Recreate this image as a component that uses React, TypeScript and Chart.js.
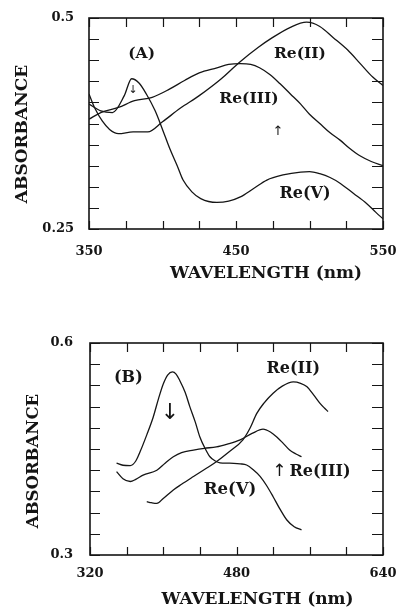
import React, { useEffect, useRef } from "react";
import { Chart, registerables } from "chart.js";

Chart.register(...registerables);

// ---------- Panel A data ----------
const A_X_LABELS = [350, 450, 550];
const A_Y_LABELS = [0.25, 0.5];
const A_X_MINOR = [350, 375, 400, 425, 450, 475, 500, 525, 550];
const A_Y_MINOR = [0.25, 0.275, 0.3, 0.325, 0.35, 0.375, 0.4, 0.425, 0.45, 0.475, 0.5];

const A_RE2_NM = [350, 354, 359, 364, 370, 380, 390, 400, 412, 425, 440, 452, 465, 475, 487, 498, 507, 516, 526, 535, 543, 550];
const A_RE2_ABS = [0.410, 0.393, 0.378, 0.368, 0.363, 0.365, 0.365, 0.377, 0.393, 0.408, 0.428, 0.447, 0.465, 0.477, 0.489, 0.495, 0.490, 0.477, 0.462, 0.445, 0.430, 0.420];

const A_RE3_NM = [350, 358, 370, 381, 393, 405, 415, 425, 437, 445, 453, 460, 466, 473, 480, 487, 494, 500, 507, 514, 521, 527, 534, 542, 550];
const A_RE3_ABS = [0.380, 0.388, 0.394, 0.402, 0.406, 0.416, 0.426, 0.435, 0.441, 0.445, 0.446, 0.445, 0.441, 0.433, 0.422, 0.410, 0.398, 0.386, 0.375, 0.364, 0.355, 0.346, 0.337, 0.330, 0.325];

const A_RE5_NM = [350, 358, 366, 374, 379, 384, 389, 395, 400, 405, 410, 414, 420, 426, 437, 445, 453, 462, 471, 482, 494, 500, 507, 514, 521, 530, 539, 545, 550];
const A_RE5_ABS = [0.398, 0.390, 0.388, 0.408, 0.428, 0.423, 0.410, 0.390, 0.368, 0.345, 0.325, 0.308, 0.294, 0.286, 0.2815, 0.283, 0.288, 0.298, 0.308, 0.314, 0.3175, 0.318, 0.3155, 0.311, 0.304, 0.292, 0.280, 0.270, 0.262];

// ---------- Panel B data ----------
const B_X_LABELS = [320, 480, 640];
const B_Y_LABELS = [0.3, 0.6];
const B_X_MINOR = [320, 360, 400, 440, 480, 520, 560, 600, 640];
const B_Y_MINOR = [0.3, 0.33, 0.36, 0.39, 0.42, 0.45, 0.48, 0.51, 0.54, 0.57, 0.6];

const B_RE2_NM = [382, 387, 393, 400, 411, 420, 433, 445, 458, 472, 487, 495, 502, 510, 520, 530, 542, 550, 557, 564, 571, 576, 580];
const B_RE2_ABS = [0.3755, 0.374, 0.373, 0.380, 0.392, 0.400, 0.411, 0.421, 0.432, 0.446, 0.463, 0.480, 0.500, 0.515, 0.529, 0.539, 0.545, 0.543, 0.538, 0.527, 0.515, 0.508, 0.503];

const B_RE3_NM = [349, 356, 364, 370, 378, 393, 402, 411, 420, 433, 445, 458, 470, 484, 497, 509, 517, 524, 531, 538, 545, 551];
const B_RE3_ABS = [0.418, 0.408, 0.404, 0.407, 0.413, 0.420, 0.430, 0.439, 0.445, 0.4485, 0.451, 0.453, 0.457, 0.463, 0.472, 0.478, 0.474, 0.467, 0.458, 0.4485, 0.443, 0.439];

const B_RE5_NM = [349, 356, 364, 370, 375, 382, 389, 395, 400, 405, 410, 414, 418, 424, 429, 435, 440, 446, 451, 457, 462, 470, 477, 484, 491, 498, 506, 513, 520, 527, 535, 543, 551];
const B_RE5_ABS = [0.430, 0.427, 0.4265, 0.433, 0.447, 0.470, 0.495, 0.522, 0.542, 0.555, 0.559, 0.556, 0.547, 0.530, 0.510, 0.488, 0.467, 0.450, 0.439, 0.433, 0.4305, 0.430, 0.4298, 0.429, 0.4274, 0.421, 0.411, 0.398, 0.3825, 0.366, 0.3495, 0.340, 0.3355];

const SERIF = '"DejaVu Serif", "Liberation Serif", serif';
const SANS = '"DejaVu Sans", sans-serif';
const INK = "#151515";

type Note = { text: string; x: number; y: number; size: number; family?: string };

type Panel = {
  width: number;
  height: number;
  top: number;
  xMin: number;
  xMax: number;
  yMin: number;
  yMax: number;
  xLabels: number[];
  yLabels: number[];
  xMinor: number[];
  yMinor: number[];
  series: { nm: number[]; abs: number[] }[];
  padTop: number;
  padRight: number;
  yAxisWidth: number;
  xAxisHeight: number;
  xTickPad: number;
  yTickPad: number;
  xTitlePos: [number, number];
  xTitleSize: number;
  yTitlePos: [number, number];
  yTitleSize: number;
  notes: Note[];
};

const PANEL_A: Panel = {
  width: 397,
  height: 300,
  top: 0,
  xMin: 350,
  xMax: 550,
  yMin: 0.25,
  yMax: 0.5,
  xLabels: A_X_LABELS,
  yLabels: A_Y_LABELS,
  xMinor: A_X_MINOR,
  yMinor: A_Y_MINOR,
  series: [
    { nm: A_RE2_NM, abs: A_RE2_ABS },
    { nm: A_RE3_NM, abs: A_RE3_ABS },
    { nm: A_RE5_NM, abs: A_RE5_ABS },
  ],
  padTop: 18,
  padRight: 14,
  yAxisWidth: 89,
  xAxisHeight: 71,
  xTickPad: 15,
  yTickPad: 15,
  xTitlePos: [266, 273.5],
  xTitleSize: 17,
  yTitlePos: [23, 134],
  yTitleSize: 17,
  notes: [
    { text: "(A)", x: 385.8, y: 0.457, size: 15.5 },
    { text: "Re(II)", x: 493.5, y: 0.457, size: 15.5 },
    { text: "Re(III)", x: 458.8, y: 0.404, size: 15.5 },
    { text: "Re(V)", x: 497, y: 0.292, size: 16 },
    { text: "↓", x: 380, y: 0.4145, size: 11, family: SANS },
    { text: "↑", x: 478.6, y: 0.3655, size: 13, family: SANS },
  ],
};

const PANEL_B: Panel = {
  width: 397,
  height: 310,
  top: 300,
  xMin: 320,
  xMax: 640,
  yMin: 0.3,
  yMax: 0.6,
  xLabels: B_X_LABELS,
  yLabels: B_Y_LABELS,
  xMinor: B_X_MINOR,
  yMinor: B_Y_MINOR,
  series: [
    { nm: B_RE2_NM, abs: B_RE2_ABS },
    { nm: B_RE3_NM, abs: B_RE3_ABS },
    { nm: B_RE5_NM, abs: B_RE5_ABS },
  ],
  padTop: 43,
  padRight: 14,
  yAxisWidth: 90,
  xAxisHeight: 55,
  xTickPad: 11,
  yTickPad: 17,
  xTitlePos: [257.5, 300],
  xTitleSize: 17,
  yTitlePos: [34, 161],
  yTitleSize: 16.5,
  notes: [
    { text: "(B)", x: 361.9, y: 0.55, size: 16 },
    { text: "Re(II)", x: 542, y: 0.564, size: 16 },
    { text: "↓", x: 407.4, y: 0.501, size: 22, family: SANS },
    { text: "↑", x: 526.8, y: 0.418, size: 17, family: SANS },
    { text: "Re(III)", x: 571.2, y: 0.418, size: 16 },
    { text: "Re(V)", x: 472.9, y: 0.392, size: 16.5 },
  ],
};

function decorPlugin(p: Panel) {
  return {
    id: "panelDecor",
    afterDraw(chart: any) {
      const { ctx, chartArea: a, scales } = chart;
      const xs = scales.x;
      const ys = scales.y;
      ctx.save();
      ctx.strokeStyle = INK;
      ctx.lineWidth = 1.6;
      ctx.strokeRect(a.left, a.top, a.right - a.left, a.bottom - a.top);
      ctx.lineWidth = 1.2;
      ctx.beginPath();
      for (const v of p.xMinor) {
        const px = Math.round(xs.getPixelForValue(v)) + 0.5;
        ctx.moveTo(px, a.top);
        ctx.lineTo(px, a.top + 9);
        ctx.moveTo(px, a.bottom);
        ctx.lineTo(px, a.bottom - 8);
      }
      for (const v of p.yMinor) {
        const py = Math.round(ys.getPixelForValue(v)) + 0.5;
        ctx.moveTo(a.left, py);
        ctx.lineTo(a.left + 10, py);
        ctx.moveTo(a.right, py);
        ctx.lineTo(a.right - 11, py);
      }
      ctx.stroke();

      ctx.fillStyle = INK;
      ctx.textAlign = "center";
      ctx.textBaseline = "middle";
      ctx.font = `bold ${p.xTitleSize}px ${SERIF}`;
      ctx.fillText("WAVELENGTH (nm)", p.xTitlePos[0], p.xTitlePos[1]);

      ctx.save();
      ctx.translate(p.yTitlePos[0], p.yTitlePos[1]);
      ctx.rotate(-Math.PI / 2);
      ctx.font = `bold ${p.yTitleSize}px ${SERIF}`;
      ctx.fillText("ABSORBANCE", 0, 0);
      ctx.restore();

      for (const n of p.notes) {
        const px = xs.getPixelForValue(n.x);
        const py = ys.getPixelForValue(n.y);
        ctx.font = `${n.family ? "" : "bold "}${n.size}px ${n.family || SERIF}`;
        ctx.fillText(n.text, px, py);
      }
      ctx.restore();
    },
  };
}

function PanelChart({ p }: { p: Panel }) {
  const ref = useRef<HTMLCanvasElement | null>(null);
  useEffect(() => {
    if (!ref.current) return;
    const tickFont = { family: SERIF, size: 13, weight: "bold" as const };
    const chart = new Chart(ref.current, {
      type: "line",
      data: {
        datasets: p.series.map((s) => ({
          data: s.nm.map((x, i) => ({ x, y: s.abs[i] })),
          borderColor: INK,
          borderWidth: 1.3,
          pointRadius: 0,
          fill: false,
          tension: 0.4,
          cubicInterpolationMode: "monotone" as const,
        })),
      },
      options: {
        responsive: false,
        animation: false,
        devicePixelRatio: 1,
        layout: { padding: { top: p.padTop, right: p.padRight, left: 0, bottom: 0 } },
        plugins: { legend: { display: false }, tooltip: { enabled: false } },
        scales: {
          x: {
            type: "linear",
            min: p.xMin,
            max: p.xMax,
            afterBuildTicks: (s: any) => {
              s.ticks = p.xLabels.map((v) => ({ value: v }));
            },
            afterFit: (s: any) => {
              s.height = p.xAxisHeight;
              s.paddingLeft = 0;
              s.paddingRight = 0;
              s.paddingTop = 0;
              s.paddingBottom = 0;
            },
            ticks: {
              font: tickFont,
              color: INK,
              padding: p.xTickPad,
              maxRotation: 0,
              autoSkip: false,
              callback: (v: any) => String(v),
            },
            grid: { display: false, drawTicks: false },
            border: { display: false },
          },
          y: {
            type: "linear",
            min: p.yMin,
            max: p.yMax,
            afterBuildTicks: (s: any) => {
              s.ticks = p.yLabels.map((v) => ({ value: v }));
            },
            afterFit: (s: any) => {
              s.width = p.yAxisWidth;
              s.paddingLeft = 0;
              s.paddingRight = 0;
              s.paddingTop = 0;
              s.paddingBottom = 0;
            },
            ticks: {
              font: tickFont,
              color: INK,
              padding: p.yTickPad,
              autoSkip: false,
              callback: (v: any) => String(v),
            },
            grid: { display: false, drawTicks: false },
            border: { display: false },
          },
        },
      },
      plugins: [decorPlugin(p)],
    });
    return () => chart.destroy();
  }, [p]);
  return (
    <canvas
      ref={ref}
      width={p.width}
      height={p.height}
      style={{ position: "absolute", left: 0, top: p.top, width: p.width, height: p.height, display: "block" }}
    />
  );
}

export default function App() {
  return (
    <div style={{ position: "absolute", left: 0, top: 0, width: 397, height: 610, background: "#fff" }}>
      <PanelChart p={PANEL_A} />
      <PanelChart p={PANEL_B} />
    </div>
  );
}
